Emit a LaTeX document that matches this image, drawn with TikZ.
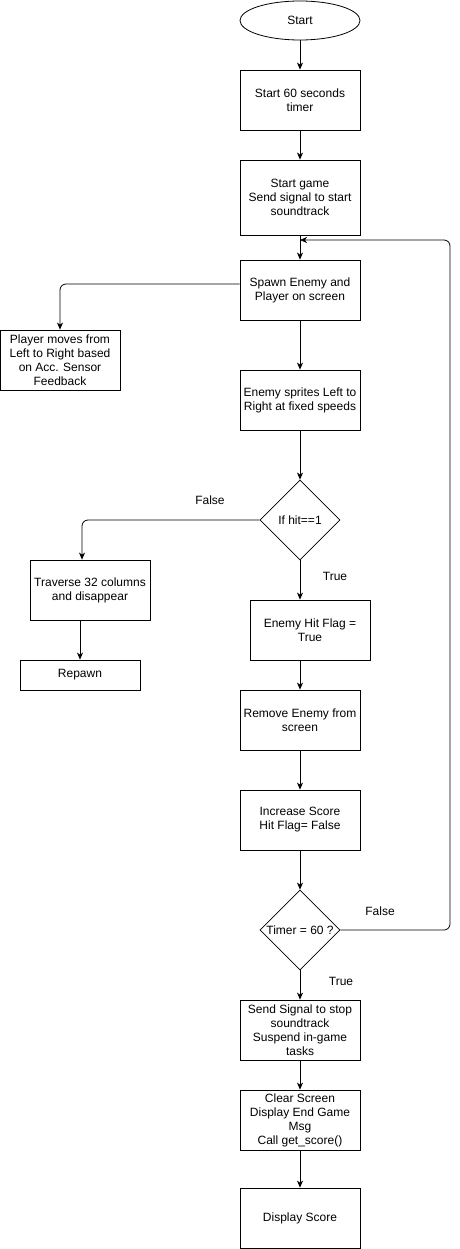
\documentclass[tikz,border=0pt]{standalone}
\usepackage{fontspec}
\setmainfont{Liberation Sans}
\usetikzlibrary{shapes.geometric,arrows.meta,calc}
\begin{document}
\begin{tikzpicture}[x=1pt,y=-1pt,
  every node/.style={font=\fontsize{12}{14}\selectfont},
  box/.style={draw,line width=0.8pt,rectangle,minimum width=120pt,inner sep=0pt,align=center},
  dec/.style={draw,line width=0.8pt,diamond,aspect=1,minimum width=80pt,minimum height=80pt,inner sep=0pt,align=center},
  term/.style={draw,line width=0.8pt,ellipse,minimum width=120pt,minimum height=39pt,inner sep=0pt},
  lbl/.style={inner sep=0pt},
  conn/.style={line width=0.8pt,-{Stealth[length=7pt,width=6pt,inset=2pt]},rounded corners=6pt}]
\useasboundingbox (0,0) rectangle (460,1249);
\node[term] (start) at (300,20.5) {Start};
\node[box,minimum height=60pt] (timer) at (300,100) {Start 60 seconds\\timer};
\node[box,minimum height=75pt] (game) at (300,197.5) {Start game\\Send signal to start\\soundtrack};
\node[box,minimum height=60pt] (spawn) at (300,290) {Spawn Enemy and\\Player on screen};
\node[box,minimum height=60pt] (player) at (60,360) {Player moves from\\Left to Right based\\on Acc. Sensor\\Feedback};
\node[box,minimum height=60pt] (enemy) at (300,400) {Enemy sprites Left to\\Right at fixed speeds};
\node[dec] (hit) at (300,520) {If hit==1};
\node[box,minimum height=60pt] (trav) at (90,590) {Traverse 32 columns\\and disappear};
\node[box,minimum height=30pt] (repawn) at (80,675) {Repawn};
\node[box,minimum height=60pt] (flag) at (310,630) {Enemy Hit Flag =\\True};
\node[box,minimum height=60pt] (remove) at (300,720) {Remove Enemy from\\screen};
\node[box,minimum height=60pt] (score) at (300,820) {Increase Score\\Hit Flag= False};
\node[dec] (tmr) at (300,930) {Timer = 60 ?};
\node[box,minimum height=60pt] (stop) at (300,1030) {Send Signal to stop\\soundtrack\\Suspend in-game\\tasks};
\node[box,minimum height=60pt] (clear) at (300,1120) {Clear Screen\\Display End Game\\Msg\\Call get\_score()};
\node[box,minimum height=60pt] (disp) at (300,1218) {Display Score};
\node[lbl] (f1) at (210,500) {False};
\node[lbl] (t1) at (335,576) {True};
\node[lbl] (f2) at (380,911) {False};
\node[lbl] (t2) at (341,981) {True};
\coordinate (lp) at (450,240);
\coordinate (join) at (300,240);
\draw[conn] (start) -- (timer);
\draw[conn] (timer) -- (game);
\draw[conn] (game) -- (spawn);
\draw[conn] ([yshift=6pt]spawn.west) -| (player.north);
\draw[conn] (spawn) -- (enemy);
\draw[conn] (enemy) -- (hit);
\draw[conn] (hit.west) -| ([xshift=-8pt]trav.north);
\draw[conn] (repawn.north |- trav.south) -- (repawn.north);
\draw[conn] (hit.south) -- (hit.south |- flag.north);
\draw[conn] (flag.south -| remove.north) -- (remove.north);
\draw[conn] (remove) -- (score);
\draw[conn] (score) -- (tmr);
\draw[conn] (tmr) -- (stop);
\draw[conn] (stop) -- (clear);
\draw[conn] (clear) -- (disp);
\draw[conn] (tmr.east) -| (lp) -- (join);
\end{tikzpicture}
\end{document}
